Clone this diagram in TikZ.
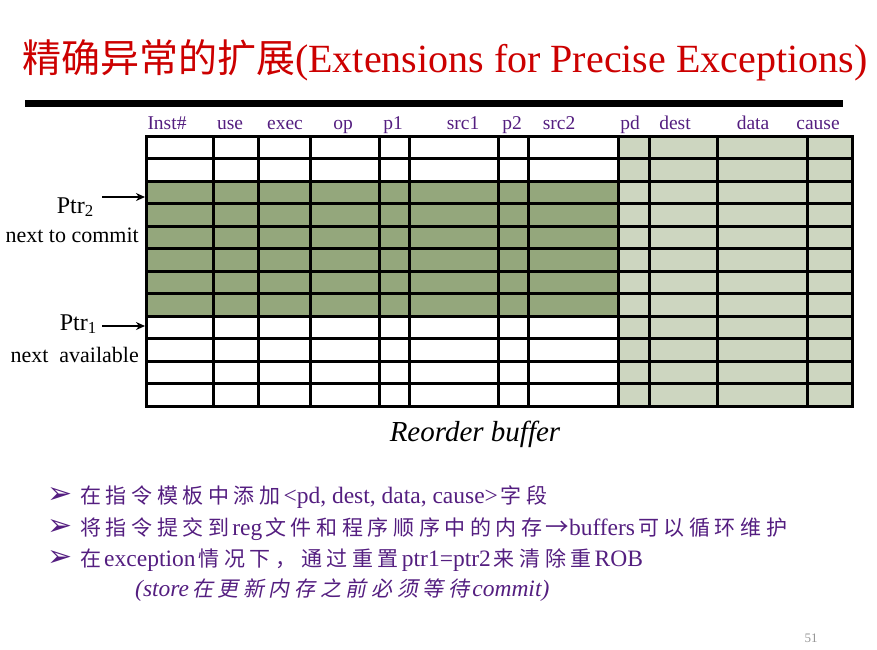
\documentclass[tikz,border=0pt]{standalone}
\usepackage{fontspec}
\setmainfont{Liberation Serif}
\newfontfamily\cjk{Noto Sans CJK SC}
\newfontfamily\cjkb[LetterSpace=22]{Noto Sans CJK SC}
\newfontfamily\cjki[FakeSlant=0.2,LetterSpace=22]{Noto Sans CJK SC}
\newfontfamily\dejavu{DejaVu Sans}
\usetikzlibrary{arrows.meta}
\definecolor{titlered}{RGB}{204,0,0}
\definecolor{hdrpurple}{RGB}{84,30,128}
\definecolor{rowgreen}{RGB}{148,167,124}
\definecolor{shadegreen}{RGB}{205,214,192}
\definecolor{pgnum}{RGB}{150,150,150}
\newcommand{\Cn}[1]{{\fontsize{21}{28}\selectfont\cjkb #1}\hspace{3pt}}
\newcommand{\Ci}[1]{{\fontsize{21}{28}\selectfont\cjki #1}\hspace{3pt}}
\tikzset{
  gridline/.style={line width=3pt, line cap=rect},
  hdr/.style={anchor=base, inner sep=0pt, text=hdrpurple, font=\fontsize{19.5}{22}\selectfont},
  ptrlbl/.style={anchor=base east, inner sep=0pt, font=\fontsize{24}{28}\selectfont},
  sublbl/.style={anchor=base east, inner sep=0pt, font=\fontsize{22}{26}\selectfont},
  ptrarrow/.style={line width=1.8pt, -{Stealth[length=9pt,width=8pt]}},
  bullet/.style={anchor=center, inner sep=0pt, text=hdrpurple, font=\fontsize{30}{34}\selectfont\dejavu},
  btext/.style={anchor=base west, inner sep=0pt, text=hdrpurple, font=\fontsize{23.5}{28}\selectfont},
}
\begin{document}
\begin{tikzpicture}[x=1pt,y=-1pt]
\useasboundingbox (0,0) rectangle (877,649);
% title
\node[anchor=base west, inner sep=0pt, text=titlered] (title) at (22,72)
  {{\cjk\fontsize{39}{44}\selectfont 精确异常的扩展}{\fontsize{40}{44}\selectfont(Extensions for Precise Exceptions)}};
\fill[black] (25,100) rectangle (843,107);
% table fills
\fill[shadegreen] (618,136) rectangle (852,406);
\fill[rowgreen] (146,181) rectangle (618,316);
% grid
\foreach \x in {146,213,258,310,379,409,498,528,618,649,717,807,852}
  \draw[gridline] (\x,136) -- (\x,406);
\foreach \y in {136,158.5,181,203.5,226,248.5,271,293.5,316,338.5,361,383.5,406}
  \draw[gridline] (146,\y) -- (852,\y);
% headers
\node[hdr] (hinst) at (167,129) {Inst\#};
\node[hdr] (huse) at (230,129) {use};
\node[hdr] (hexec) at (285,129) {exec};
\node[hdr] (hop) at (343,129) {op};
\node[hdr] (hp1) at (393,129) {p1};
\node[hdr] (hsrc1) at (463,129) {src1};
\node[hdr] (hp2) at (512,129) {p2};
\node[hdr] (hsrc2) at (559,129) {src2};
\node[hdr] (hpd) at (630,129) {pd};
\node[hdr] (hdest) at (675,129) {dest};
\node[hdr] (hdata) at (753,129) {data};
\node[hdr] (hcause) at (818,129) {cause};
% pointers
\node[ptrlbl] (ptr2) at (94,213) {Ptr\textsubscript{2}};
\node[sublbl] (commit) at (139,242) {next to commit};
\node[ptrlbl] (ptr1) at (97,330) {Ptr\textsubscript{1}};
\node[sublbl] (avail) at (139,362) {next\ \ available};
\coordinate (s2) at (102,197);
\coordinate (t2) at (145,197);
\coordinate (s1) at (102,326);
\coordinate (t1) at (145,326);
\draw[ptrarrow] (s2) -- (t2);
\draw[ptrarrow] (s1) -- (t1);
% caption
\node[anchor=base, inner sep=0pt, font=\fontsize{29}{34}\selectfont\itshape] (rob) at (475,441) {Reorder buffer};
% bullets
\node[bullet] (b1) at (60,495) {➢};
\node[bullet] (b2) at (60,527) {➢};
\node[bullet] (b3) at (60,558) {➢};
\node[btext] (l1) at (80,503) {\Cn{在指令模板中添加}<pd, dest, data, cause>\hspace{3pt}\Cn{字段}};
\node[btext] (l2) at (80,535) {\Cn{将指令提交到}reg\hspace{3pt}\Cn{文件和程序顺序中的内存}{\cjk →}buffers\hspace{3pt}\Cn{可以循环维护}};
\node[btext] (l3) at (80,566) {\Cn{在}exception\hspace{3pt}\Cn{情况下，通过重置}ptr1=ptr2\hspace{3pt}\Cn{来清除重}ROB};
\node[btext] (l4) at (135,596) {\textit{(store}\hspace{3pt}\Ci{在更新内存之前必须等待}\textit{commit)}};
% page number
\node[anchor=base, inner sep=0pt, text=pgnum, font=\fontsize{13}{15}\selectfont] (pg) at (811,642) {51};
\end{tikzpicture}
\end{document}
